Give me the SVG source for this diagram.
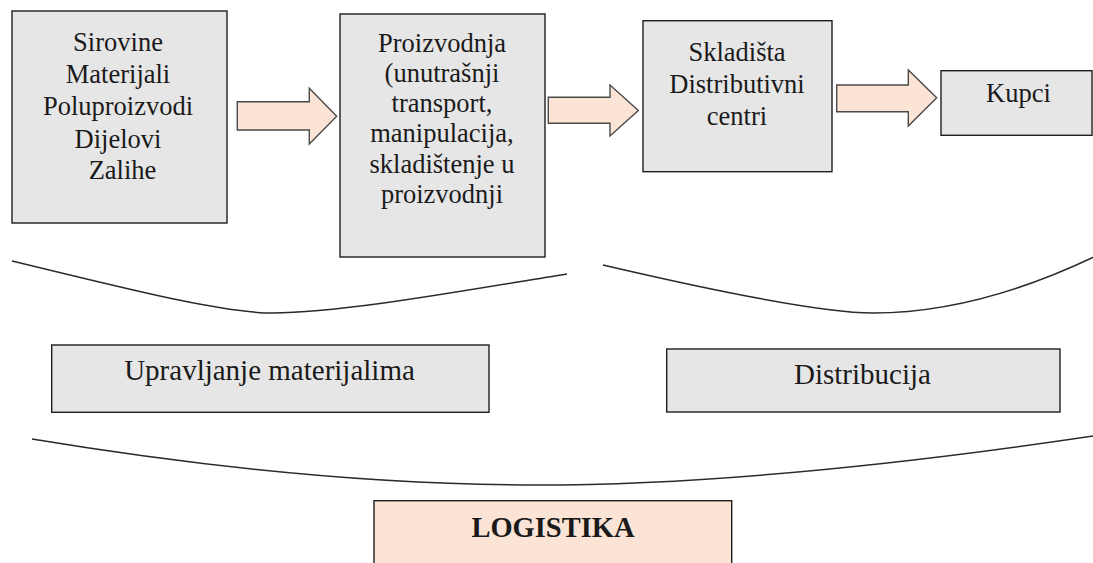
<svg xmlns="http://www.w3.org/2000/svg" width="1093" height="563" viewBox="0 0 1093 563">
<style>
.box{fill:#e6e6e6;stroke:#1e1e1e;stroke-width:1.4}
.peach{fill:#fbe4d6;stroke:#1e1e1e;stroke-width:1.4}
.arr{fill:#fbe4d6;stroke:#4a4a4a;stroke-width:1.4;stroke-linejoin:miter}
text{font-family:"Liberation Serif","Times New Roman",Tinos,"DejaVu Serif",serif;fill:#1a1a1a;text-anchor:middle}
.t{font-size:26.5px}
.tb{font-size:29px}
.brace{fill:none;stroke:#2a2a2a;stroke-width:1.5}
</style>
<rect width="1093" height="563" fill="#ffffff"/>
<g id="connectors">
<polygon class="arr" points="237.3,101.7 309.3,101.7 309.3,88.3 336.7,116.2 309.3,144 309.3,130 237.3,130"/>
<polygon class="arr" points="548.3,97.3 610,97.3 610,85 638.3,110.5 610,136 610,123.3 548.3,123.3"/>
<polygon class="arr" points="836.7,85 908.3,85 908.3,70 936.7,97.7 908.3,126 908.3,111.7 836.7,111.7"/>
</g>
<g id="braces">
<path class="brace" d="M12,261 C120,287 220,313 272,313 C340,313 450,293 567,274"/>
<path class="brace" d="M603,265 C710,290 820,313 873,313 C950,313 1030,288 1100,254"/>
<path class="brace" d="M32,439 C250,475 420,485 537,485 C700,485 900,465 1100,435"/>
</g>
<g id="node-sirovine">
<rect class="box" x="12" y="11" width="215" height="212"/>
<text class="t" x="118" y="50.7">Sirovine</text>
<text class="t" x="118" y="83.3">Materijali</text>
<text class="t" x="118" y="115">Poluproizvodi</text>
<text class="t" x="118" y="147.7">Dijelovi</text>
<text class="t" x="122.5" y="179">Zalihe</text>
</g>
<g id="node-proizvodnja">
<rect class="box" x="340" y="14" width="205" height="243"/>
<text class="t" x="442" y="51.7">Proizvodnja</text>
<text class="t" x="442" y="81.7">(unutrašnji</text>
<text class="t" x="442" y="111.7">transport,</text>
<text class="t" x="442" y="141.7">manipulacija,</text>
<text class="t" x="442" y="173.3">skladištenje u</text>
<text class="t" x="442" y="203.3">proizvodnji</text>
</g>
<g id="node-skladista">
<rect class="box" x="643" y="20.7" width="189" height="151"/>
<text class="t" x="737" y="60.5">Skladišta</text>
<text class="t" x="737" y="92.5">Distributivni</text>
<text class="t" x="737" y="125">centri</text>
</g>
<g id="node-kupci">
<rect class="box" x="941" y="70.7" width="151" height="64.6"/>
<text class="t" x="1018.5" y="101.7">Kupci</text>
</g>
<g id="node-upravljanje">
<rect class="box" x="51.7" y="345" width="437.3" height="67.3"/>
<text class="tb" x="269.5" y="380">Upravljanje materijalima</text>
</g>
<g id="node-distribucija">
<rect class="box" x="666.7" y="349" width="393.3" height="63"/>
<text class="tb" x="862.5" y="384">Distribucija</text>
</g>
<g id="node-logistika">
<rect class="peach" x="374" y="500.7" width="357.7" height="70"/>
<text x="553" y="536.7" font-weight="bold" style="font-size:28.5px">LOGISTIKA</text>
</g>
</svg>
